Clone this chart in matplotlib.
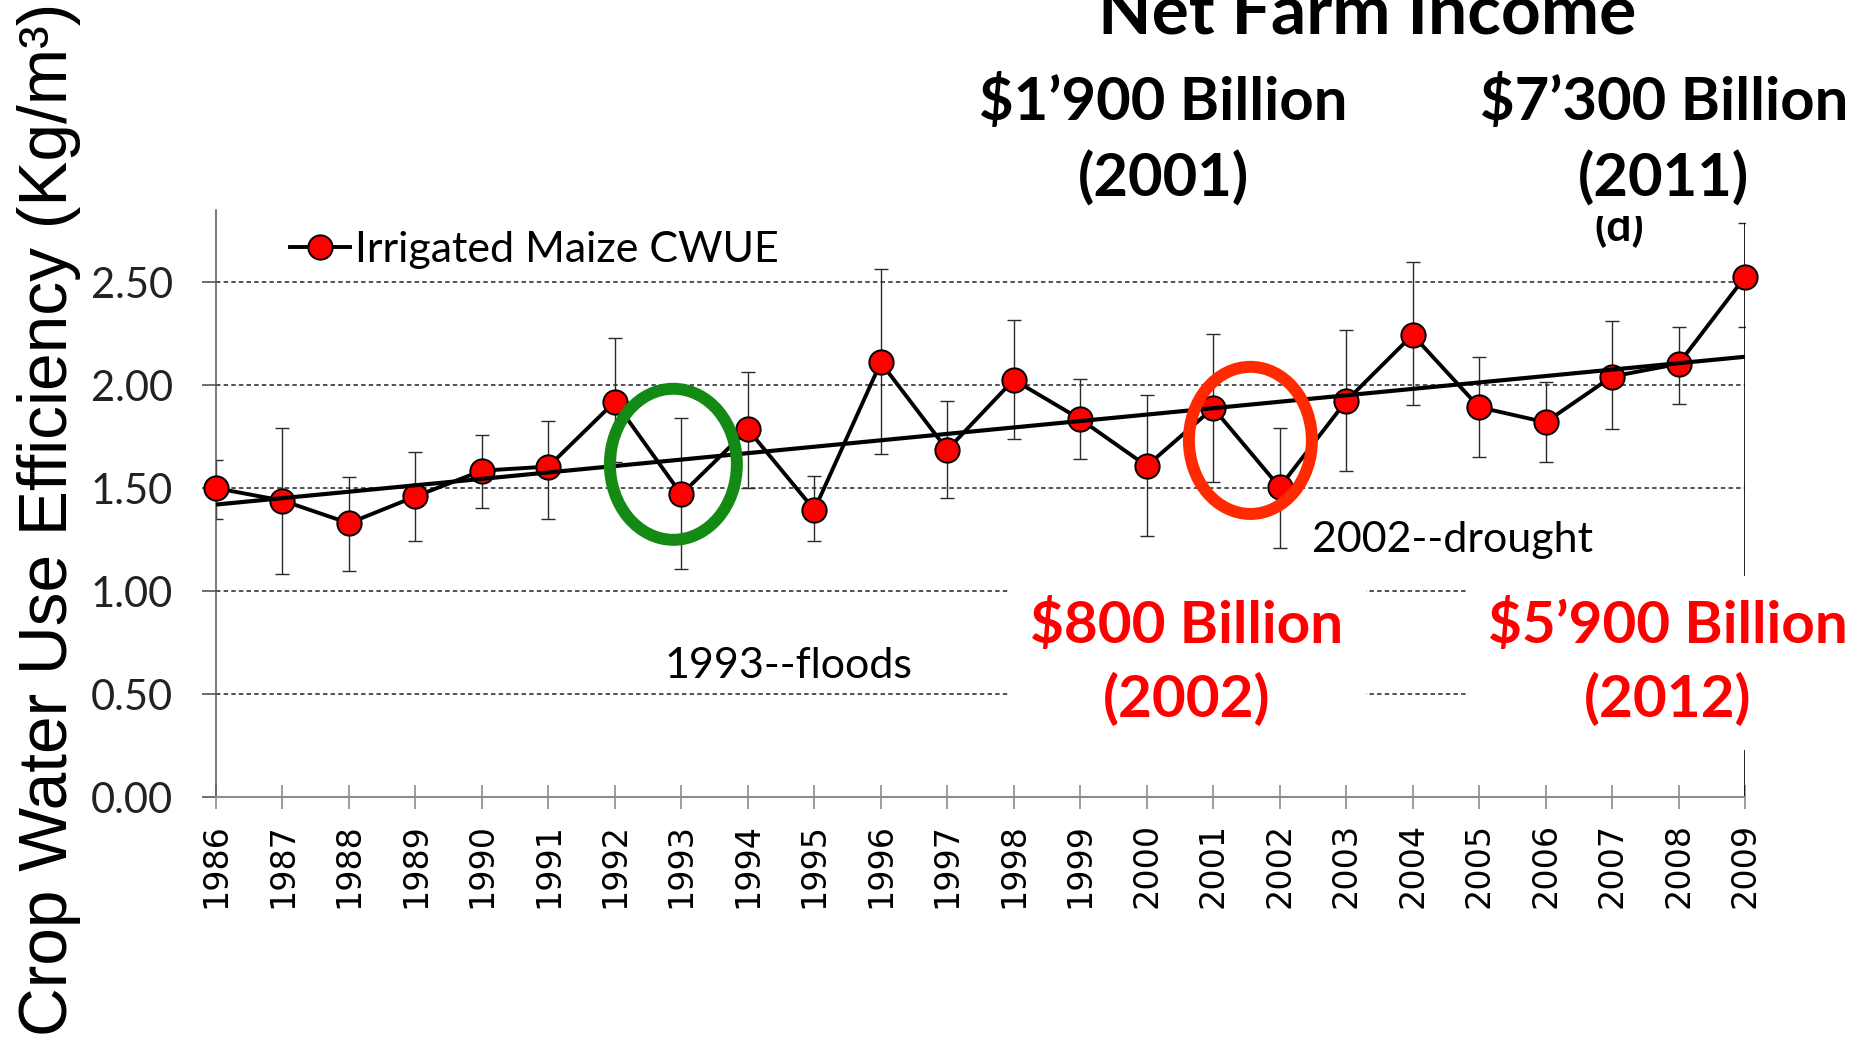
import numpy as np
import matplotlib
matplotlib.use("Agg")
import matplotlib.pyplot as plt
from matplotlib.patches import Ellipse
from matplotlib.ticker import FormatStrFormatter

plt.rcParams['font.family'] = ['Lato', 'DejaVu Sans']

# CWUE of irrigated maize, with the ends of the error bars
years = list(range(1986, 2010))
cwue = [1.50, 1.44, 1.33, 1.46, 1.585, 1.605, 1.92, 1.47, 1.786, 1.395, 2.11, 1.686,
        2.026, 1.835, 1.608, 1.889, 1.505, 1.923, 2.244, 1.893, 1.820, 2.042, 2.103, 2.525]
err_hi = [1.637, 1.794, 1.555, 1.676, 1.759, 1.827, 2.227, 1.840, 2.066, 1.561, 2.563, 1.923,
          2.317, 2.030, 1.950, 2.249, 1.794, 2.268, 2.600, 2.139, 2.017, 2.309, 2.282, 2.788]
err_lo = [1.351, 1.085, 1.100, 1.243, 1.406, 1.35, 1.629, 1.107, 1.503, 1.243, 1.667, 1.454,
          1.739, 1.644, 1.269, 1.531, 1.210, 1.584, 1.904, 1.652, 1.629, 1.786, 1.909, 2.280]
yticks = [0.0, 0.5, 1.0, 1.5, 2.0, 2.5]

# farm income notes
income_top = ["$1’900 Billion\n(2001)", "$7’300 Billion\n(2011)"]
income_low = ["$800 Billion\n(2002)", "$5’900 Billion\n(2012)"]

y = np.array(cwue)
lo = y - np.array(err_lo)
hi = np.array(err_hi) - y

fig = plt.figure(figsize=(18.7, 10.39), dpi=100)
ax = fig.add_axes([216 / 1870, 1 - 797.3 / 1039, (1745 - 216) / 1870, (797.3 - 210) / 1039])
ax.set_xlim(1986, 2009)
ax.set_ylim(0, 2.85)

ax.errorbar(years, y, yerr=[lo, hi], fmt='none', ecolor='#2a2a2a', elinewidth=1.0,
            capsize=4.7, capthick=1.0, zorder=2)
# long line at the right end of the series
ax.vlines(years[-1], 0, err_hi[-1], color='black', lw=1.2, zorder=2)
series, = ax.plot(years, y, '-o', color='black', lw=2.8, ms=17.5, mfc='red', mec='black',
                  mew=1.4, clip_on=False, zorder=3, label='Irrigated Maize CWUE')

# linear trend
k, b = np.polyfit(years, y, 1)
ax.plot([years[0], years[-1]], [k * years[0] + b, k * years[-1] + b], color='black',
        lw=3.0, zorder=4)

ax.add_patch(Ellipse((1992.88, 1.616), 1.91, 0.733, fill=False, edgecolor='#138a13', lw=8.6, zorder=5))
ax.add_patch(Ellipse((2001.56, 1.732), 1.85, 0.714, fill=False, edgecolor='#ff2a00', lw=8.6, zorder=5))

ax.set_xticks(years)
ax.set_xticklabels([str(v) for v in years], rotation=90, family='DejaVu Sans', fontsize=24)
ax.set_yticks(yticks)
ax.yaxis.set_major_formatter(FormatStrFormatter('%.2f'))
ax.tick_params(axis='x', direction='inout', length=17, width=1.2, color='#8c8c8c', pad=10)
ax.tick_params(axis='y', direction='out', length=10, width=1.2, color='#555555', pad=21,
               labelsize=30, labelcolor='#222222')
ax.yaxis.grid(True, linestyle=(0, (2.9, 2.1)), color='#222222', lw=1.1)
ax.set_axisbelow(True)
for s in ['top', 'right']:
    ax.spines[s].set_visible(False)
ax.spines['left'].set_color('#555555')
ax.spines['left'].set_linewidth(1.1)
ax.spines['bottom'].set_color('#8c8c8c')
ax.spines['bottom'].set_linewidth(1.5)

ax.legend(handles=[series], loc='center left', bbox_to_anchor=(290 / 1870, 1 - 250 / 1039),
          bbox_transform=fig.transFigure, frameon=False, prop=dict(family='Lato', size=31),
          handlelength=1.4, handletextpad=0.12, borderpad=0, borderaxespad=0)

ax.text(1992.74, 0.579, '1993--floods', fontsize=31, va='baseline')
ax.text(2002.49, 1.19, '2002--drought', fontsize=31, va='baseline')
ax.text(2007.1, 2.70, '(d)', fontsize=32, fontweight='bold', ha='center', va='baseline')

fig.text(1367 / 1870, 1 - 34 / 1039, 'Net Farm Income', fontsize=50, fontweight='bold',
         ha='center', va='baseline')
for x, s in zip([1163, 1664], income_top):
    fig.text(x / 1870, 1 - 140 / 1039, s, fontsize=43, fontweight='bold', ha='center',
             va='center', linespacing=1.44,
             bbox=dict(facecolor='white', edgecolor='none', pad=7))
for x, s in zip([1187, 1668], income_low):
    fig.text(x / 1870, 1 - 663 / 1039, s, fontsize=42, fontweight='bold', color='#ff0000',
             ha='center', va='center', linespacing=1.46,
             bbox=dict(facecolor='white', edgecolor='none', pad=16))

ylab = fig.text(49 / 1870, 0.5, 'Crop Water Use Efficiency (Kg/m³)', rotation=90,
                ha='center', va='center', family=['Liberation Sans Narrow', 'Liberation Sans'],
                fontsize=50)
fig.canvas.draw()
h = ylab.get_window_extent().height
ylab.set_fontsize(50 * 1035 / h)

fig.savefig('out.png', dpi=100)
